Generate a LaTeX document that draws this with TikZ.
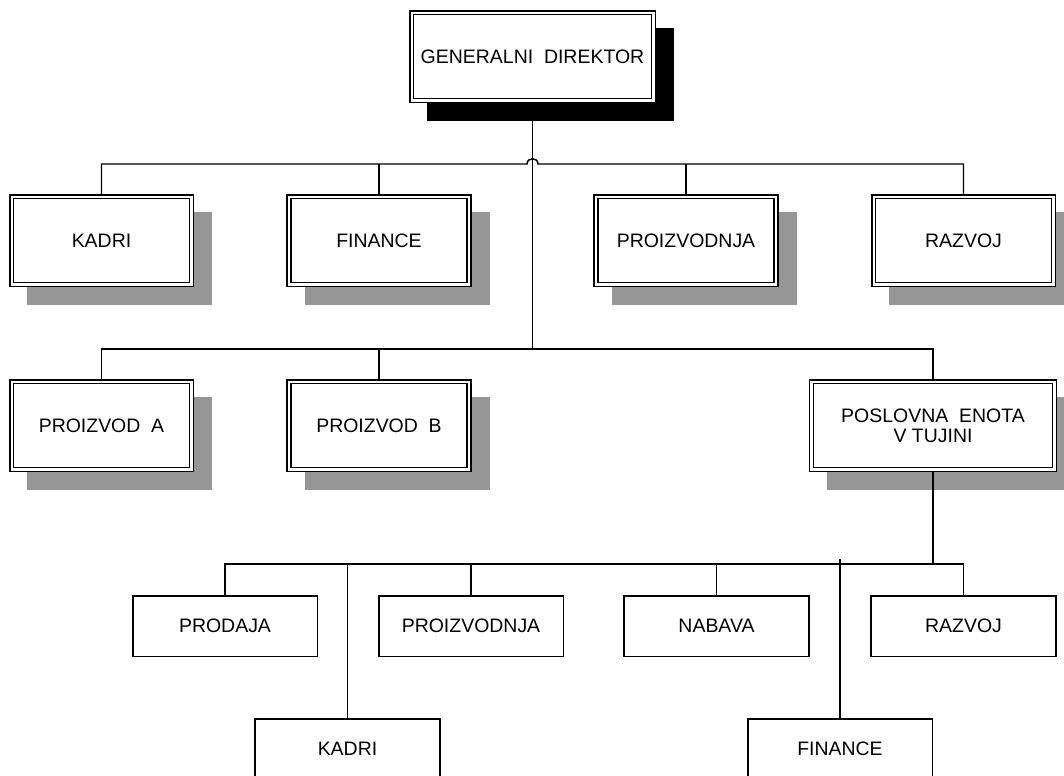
\documentclass[tikz,border=0pt]{standalone}
\usepackage{fontspec}
\setmainfont{Liberation Sans}
\pgfdeclarelayer{shadowlayer}
\pgfdeclarelayer{linelayer}
\pgfsetlayers{shadowlayer,linelayer,main}
\definecolor{shadowgray}{RGB}{150,150,150}
\newcommand\boxshadow[2]{\fill[#2] ([shift={(15.3,15.3)}]#1.north west) rectangle ([shift={(20.7,20.7)}]#1.south east);}
\begin{document}
\begin{tikzpicture}[x=0.75pt,y=-0.75pt,
  dbox/.style={draw=black, double=white, double distance=1.8pt, line width=1.15pt,
    fill=white, inner sep=0pt, outer sep=0pt, minimum width=134.7pt, minimum height=65.7pt,
    font=\fontsize{14.6}{15}\selectfont, align=center},
  pbox/.style={draw=black, line width=1.15pt, fill=white, inner sep=0pt, outer sep=0pt,
    minimum width=138.4pt, minimum height=45.4pt, font=\fontsize{14.6}{15}\selectfont, align=center},
  conn/.style={draw=black, line width=1.1pt}]
\useasboundingbox (0,0) rectangle (1064,775);
% boxes
\node[dbox, minimum width=181.2pt] (gd) at (532.5,56.5) {GENERALNI\ \ DIREKTOR};
\node[dbox] (kadri) at (101.5,240.5) {KADRI};
\node[dbox] (fin) at (379,240.5) {FINANCE};
\node[dbox] (proiz) at (686,240.5) {PROIZVODNJA};
\node[dbox] (razvoj) at (963.5,240.5) {RAZVOJ};
\node[dbox] (pa) at (101.5,425.5) {PROIZVOD\ \ A};
\node[dbox] (pb) at (379,425.5) {PROIZVOD\ \ B};
\node[dbox, minimum width=182pt] (pe) at (933,425.5) {POSLOVNA\ \ ENOTA\\V TUJINI};
\node[pbox] (prodaja) at (225,626) {PRODAJA};
\node[pbox] (proiz2) at (471,626) {PROIZVODNJA};
\node[pbox] (nabava) at (716.5,626) {NABAVA};
\node[pbox] (razvoj2) at (963.5,626) {RAZVOJ};
\node[pbox] (kadri2) at (347.5,749) {KADRI};
\node[pbox] (fin2) at (840,749) {FINANCE};
% shadows
\begin{pgfonlayer}{shadowlayer}
\boxshadow{gd}{black}
\boxshadow{kadri}{shadowgray}
\boxshadow{fin}{shadowgray}
\boxshadow{proiz}{shadowgray}
\boxshadow{razvoj}{shadowgray}
\boxshadow{pa}{shadowgray}
\boxshadow{pb}{shadowgray}
\boxshadow{pe}{shadowgray}
\end{pgfonlayer}
% connectors
\coordinate (y1) at (0,164);
\coordinate (y2) at (0,349);
\coordinate (y3) at (0,564);
\begin{pgfonlayer}{linelayer}
\draw[conn] (kadri.north) -- (kadri.north |- y1)
  -- ([shift={(-5.5,0)}]gd.south |- y1) .. controls +(0,-7) and +(0,-7) .. ([shift={(5.5,0)}]gd.south |- y1)
  -- (razvoj.north |- y1) -- (razvoj.north);
\draw[conn] (fin.north) -- (fin.north |- y1);
\draw[conn] (proiz.north) -- (proiz.north |- y1);
\draw[conn] (gd.south) -- (gd.south |- y2);
\draw[conn] (pa.north) -- (pa.north |- y2) -- (pe.north |- y2) -- (pe.north);
\draw[conn] (pb.north) -- (pb.north |- y2);
\draw[conn] (pe.south) -- (pe.south |- y3);
\draw[conn] (prodaja.north) -- (prodaja.north |- y3) -- (razvoj2.north |- y3) -- (razvoj2.north);
\draw[conn] (proiz2.north) -- (proiz2.north |- y3);
\draw[conn] (nabava.north) -- (nabava.north |- y3);
\draw[conn] (kadri2.north) -- (kadri2.north |- y3);
\draw[conn] (fin2.north) -- ([shift={(0,-5)}]fin2.north |- y3);
\end{pgfonlayer}
\end{tikzpicture}
\end{document}
